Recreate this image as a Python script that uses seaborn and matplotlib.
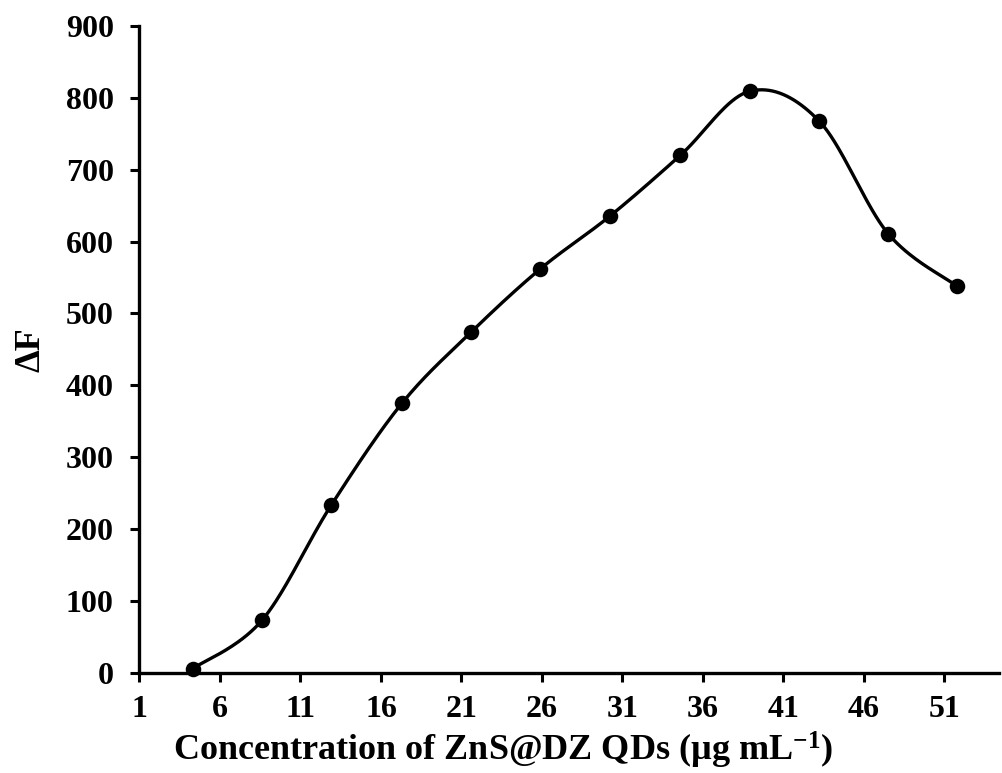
import numpy as np
import pandas as pd
import matplotlib
matplotlib.use("Agg")
import matplotlib.pyplot as plt
import seaborn as sns

# Fluorescence response vs. quantum-dot concentration
concentration = [4.3, 8.6, 12.9, 17.3, 21.6, 25.9, 30.2, 34.6, 38.9, 43.2, 47.5, 51.8]
delta_f = [6, 73, 233, 375, 474, 562, 635, 720, 809, 768, 611, 538]
x_ticks = [1, 6, 11, 16, 21, 26, 31, 36, 41, 46, 51]
y_ticks = [0, 100, 200, 300, 400, 500, 600, 700, 800, 900]

df = pd.DataFrame({"conc": concentration, "dF": delta_f})


def smooth_curve(x, y, n=40):
    """Cubic Bezier smoothing through every point (Catmull-Rom tangents)."""
    x = np.asarray(x, float)
    y = np.asarray(y, float)
    px = np.concatenate([[x[0]], x, [x[-1]]])
    py = np.concatenate([[y[0]], y, [y[-1]]])
    xs, ys = [], []
    t = np.linspace(0, 1, n)
    for i in range(1, len(px) - 2):
        p0 = np.array([px[i], py[i]])
        p3 = np.array([px[i + 1], py[i + 1]])
        c1 = p0 + (np.array([px[i + 1], py[i + 1]]) - np.array([px[i - 1], py[i - 1]])) / 6
        c2 = p3 - (np.array([px[i + 2], py[i + 2]]) - np.array([px[i], py[i]])) / 6
        b = ((1 - t) ** 3)[:, None] * p0 + (3 * (1 - t) ** 2 * t)[:, None] * c1 \
            + (3 * (1 - t) * t ** 2)[:, None] * c2 + (t ** 3)[:, None] * p3
        xs.append(b[:, 0])
        ys.append(b[:, 1])
    return np.concatenate(xs), np.concatenate(ys)


sns.set_theme(style="white")
plt.rcParams["font.family"] = ["Liberation Serif", "DejaVu Serif"]
plt.rcParams["font.weight"] = "bold"
plt.rcParams["text.color"] = "black"
plt.rcParams["axes.labelcolor"] = "black"
plt.rcParams["xtick.color"] = "black"
plt.rcParams["ytick.color"] = "black"
plt.rcParams["mathtext.fontset"] = "custom"
plt.rcParams["mathtext.rm"] = "Liberation Serif:bold"
plt.rcParams["mathtext.bf"] = "Liberation Serif:bold"
plt.rcParams["mathtext.default"] = "bf"

fig = plt.figure(figsize=(10.02, 7.73), dpi=100)
ax = fig.add_axes([0.1392, 0.1294, 0.858, 0.8372])

sx, sy = smooth_curve(df["conc"], df["dF"])
ax.plot(sx, sy, color="black", lw=2.4, solid_capstyle="round", zorder=2)
sns.scatterplot(data=df, x="conc", y="dF", ax=ax, color="black", s=125,
                edgecolor="black", linewidth=0, zorder=3, clip_on=False)

ax.set_xlim(1, 54.4)
ax.set_ylim(0, 900)
ax.set_xticks(x_ticks)
ax.set_yticks(y_ticks)
ax.set_xticklabels([str(v) for v in x_ticks], fontsize=23, fontweight="bold",
                   color="black")
ax.set_yticklabels([str(v) for v in y_ticks], fontsize=23, fontweight="bold",
                   color="black")
ax.tick_params(axis="both", which="major", direction="out", length=6.5,
               width=2.2, color="black", bottom=True, left=True)
ax.tick_params(axis="y", pad=12)
ax.tick_params(axis="x", pad=9)

for side in ["top", "right"]:
    ax.spines[side].set_visible(False)
for side in ["left", "bottom"]:
    ax.spines[side].set_color("black")
    ax.spines[side].set_linewidth(2.4)

ax.set_xlabel(r"Concentration of ZnS@DZ QDs (µg mL$^{-1}$)",
              fontsize=26, fontweight="bold", color="black")
ax.xaxis.set_label_coords(0.4227, -0.088)
ax.set_ylabel("ΔF", fontsize=26, fontweight="bold", color="black", labelpad=13)
ax.grid(False)

fig.savefig("out.png", dpi=100, facecolor="white")
